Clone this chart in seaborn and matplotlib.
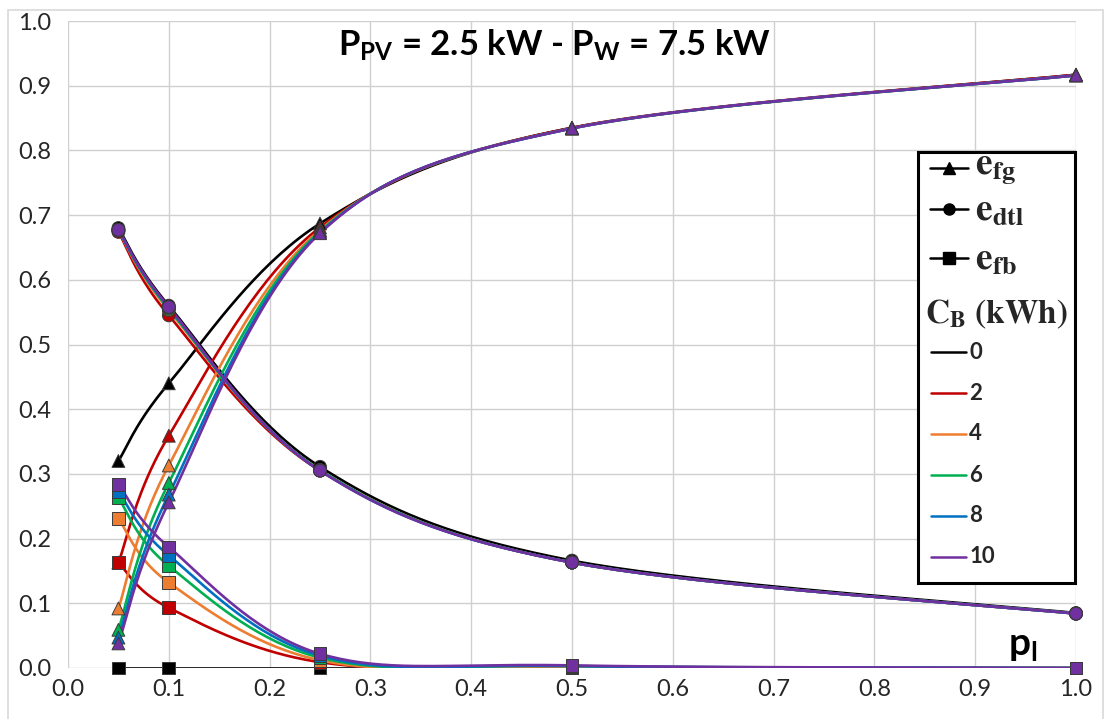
import numpy as np
import pandas as pd
import matplotlib
matplotlib.use('Agg')
import matplotlib.pyplot as plt
import seaborn as sns
from matplotlib.lines import Line2D
from matplotlib.patches import Rectangle
from matplotlib.font_manager import FontProperties

# load fraction on the x axis
p_l = [0.05, 0.1, 0.25, 0.5, 1.0]
# battery capacities (kWh) and their colours
capacities = ['0', '2', '4', '6', '8', '10']
colors = ['#000000', '#C00000', '#ED7D31', '#00B050', '#0070C0', '#7030A0']

e_fg = {
    '0':  [0.320, 0.440, 0.687, 0.835, 0.917],
    '2':  [0.163, 0.359, 0.681, 0.835, 0.917],
    '4':  [0.092, 0.313, 0.677, 0.834, 0.916],
    '6':  [0.059, 0.286, 0.675, 0.834, 0.916],
    '8':  [0.047, 0.268, 0.673, 0.834, 0.916],
    '10': [0.038, 0.256, 0.672, 0.834, 0.916],
}
e_dtl = {
    '0':  [0.680, 0.560, 0.311, 0.166, 0.085],
    '2':  [0.674, 0.545, 0.305, 0.163, 0.084],
    '4':  [0.676, 0.553, 0.306, 0.163, 0.084],
    '6':  [0.677, 0.555, 0.306, 0.163, 0.084],
    '8':  [0.677, 0.557, 0.305, 0.163, 0.084],
    '10': [0.677, 0.558, 0.305, 0.163, 0.084],
}
e_fb = {
    '0':  [0.000, 0.000, 0.000, 0.000, 0.000],
    '2':  [0.163, 0.093, 0.009, 0.001, 0.000],
    '4':  [0.231, 0.132, 0.012, 0.002, 0.000],
    '6':  [0.263, 0.158, 0.016, 0.003, 0.000],
    '8':  [0.273, 0.174, 0.019, 0.003, 0.000],
    '10': [0.284, 0.187, 0.022, 0.004, 0.000],
}


def smooth_curve(x, y, n=40):
    """Excel-like smoothed line (cubic Bezier segments through the points)"""
    pts = np.column_stack([x, y])
    P = np.vstack([pts[0], pts, pts[-1]])
    t = np.linspace(0, 1, n)[:, None]
    out = []
    for i in range(1, len(P) - 2):
        p0, p1, p2, p3 = P[i - 1], P[i], P[i + 1], P[i + 2]
        c1 = p1 + (p2 - p0) / 6
        c2 = p2 - (p3 - p1) / 6
        seg = (1 - t)**3 * p1 + 3 * (1 - t)**2 * t * c1 + 3 * (1 - t) * t**2 * c2 + t**3 * p2
        out.append(seg)
    return np.vstack(out)


sns.set_theme(style='whitegrid')
plt.rcParams['font.family'] = ['Lato', 'DejaVu Sans']
plt.rcParams['mathtext.fontset'] = 'custom'
plt.rcParams['mathtext.rm'] = 'Lato'
plt.rcParams['mathtext.bf'] = 'Lato:bold'

# long-form tables: smoothed curves and the measured points
curves = []
points = []
for k, cb in enumerate(capacities):
    for var, vals in [('fg', e_fg), ('dtl', e_dtl), ('fb', e_fb)]:
        xy = smooth_curve(p_l, vals[cb])
        curves.append(pd.DataFrame({'x': xy[:, 0], 'y': xy[:, 1], 'cb': cb,
                                    'series': var + cb}))
        points.append(pd.DataFrame({'x': p_l, 'y': vals[cb], 'cb': cb, 'var': var}))
df_curves = pd.concat(curves, ignore_index=True)
df_points = pd.concat(points, ignore_index=True)

palette = dict(zip(capacities, colors))

fig = plt.figure(figsize=(11.05, 7.19), dpi=100)
ax = fig.add_axes([68 / 1105, 1 - 668 / 719, 1008 / 1105, 647 / 719])

sns.lineplot(data=df_curves, x='x', y='y', hue='cb', units='series', estimator=None,
             sort=False, palette=palette, linewidth=1.9, legend=False, ax=ax)
sns.scatterplot(data=df_points, x='x', y='y', hue='cb', style='var',
                markers={'fg': '^', 'dtl': 'o', 'fb': 's'}, palette=palette,
                s=85, edgecolor='#3a3a3a', linewidth=0.7, legend=False, ax=ax,
                zorder=5, clip_on=False)

ax.set_xlim(0, 1)
ax.set_ylim(0, 1)
ax.set_xticks(np.arange(0, 1.01, 0.1))
ax.set_yticks(np.arange(0, 1.01, 0.1))
ax.xaxis.set_major_formatter(matplotlib.ticker.FormatStrFormatter('%.1f'))
ax.yaxis.set_major_formatter(matplotlib.ticker.FormatStrFormatter('%.1f'))
ax.tick_params(axis='both', length=0, labelsize=17, labelcolor='#262626')
ax.tick_params(axis='x', pad=8)
ax.tick_params(axis='y', pad=12)
ax.set_xlabel('')
ax.set_ylabel('')
ax.grid(True, color='#D0D0D0', linewidth=1.0)
for s in ax.spines.values():
    s.set_visible(False)
ax.set_facecolor('white')

ax.text(0.483, 0.962, r'$\mathbf{P_{PV}}$ = 2.5 kW - $\mathbf{P_{W}}$ = 7.5 kW',
        transform=ax.transAxes, ha='center', va='center', fontsize=25,
        fontweight='bold', color='black')
ax.text(0.933, 0.02, r'$\mathbf{p_{l}}$', transform=ax.transAxes, ha='left',
        va='baseline', fontsize=28, color='black')

# custom legend box
ax.add_patch(Rectangle((0.843, 0.131), 0.156, 0.667, transform=ax.transAxes,
                       facecolor='white', edgecolor='black', linewidth=2.2,
                       zorder=10, clip_on=False))
serif = FontProperties(size=27, math_fontfamily='stix')
for y, mk, lab in [(0.773, '^', r'$\mathbf{e_{fg}}$'),
                   (0.709, 'o', r'$\mathbf{e_{dtl}}$'),
                   (0.634, 's', r'$\mathbf{e_{fb}}$')]:
    ax.add_line(Line2D([0.855, 0.893], [y, y], transform=ax.transAxes, color='black',
                       linewidth=1.8, zorder=11))
    ax.add_line(Line2D([0.874], [y], transform=ax.transAxes, color='black', marker=mk,
                       markersize=8, zorder=11))
    ax.text(0.900, y, lab, transform=ax.transAxes, ha='left', va='center',
            fontproperties=serif, zorder=12)
ax.text(0.921, 0.546, r'$\mathbf{C_{B}\ (kWh)}$', transform=ax.transAxes, ha='center',
        va='center', fontproperties=FontProperties(size=24, math_fontfamily='stix'),
        zorder=12)
for y, cb, c in zip([0.488, 0.425, 0.362, 0.298, 0.235, 0.172], capacities, colors):
    ax.add_line(Line2D([0.856, 0.891], [y, y], transform=ax.transAxes, color=c,
                       linewidth=1.8, zorder=11))
    ax.text(0.894, y, cb, transform=ax.transAxes, ha='left', va='center',
            fontsize=16, fontweight='bold', zorder=12)

# light chart-area border
fig.add_artist(Rectangle((8 / 1105, -0.01), 1095 / 1105, 1.003 - 5 / 719,
                         transform=fig.transFigure, fill=False,
                         edgecolor='#D9D9D9', linewidth=1.2))

fig.savefig('out.png', dpi=100, facecolor='white')
